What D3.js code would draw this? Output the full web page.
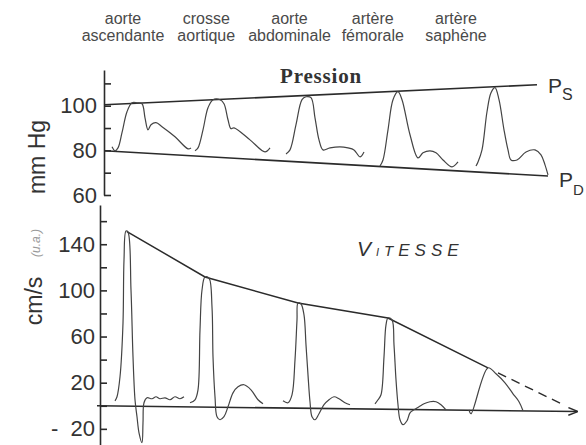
<!DOCTYPE html>
<html><head><meta charset="utf-8">
<script src="https://cdn.jsdelivr.net/npm/d3@7"></script>
<style>html,body{margin:0;background:#fff}svg{display:block}</style>
</head><body>
<svg id="chart" width="586" height="445"></svg>
<script>
// Measurement sites along the arterial tree
const sites = [["aorte", "ascendante"], ["crosse", "aortique"], ["aorte", "abdominale"], ["artère", "fémorale"], ["artère", "saphène"]];

// Axis ticks
const pressureTicks = [60, 70, 80, 90, 100, 110];
const pressureLabels = [60, 80, 100];
const speedTicks = [-20, 0, 20, 40, 60, 80, 100, 120, 140, 160];
const speedLabels = [-20, 20, 60, 100, 140];

// Pressure waves, [time, mmHg]
const pressureAsc = [[12,81.6],[15,79.8],[18,81.1],[22,87.9],[27,97.3],[32,101.3],[37,101.3],[42,100.9],[45,94.6],[48,89.2],[51,91.5],[56,92.4],[62,90.6],[75,86.1],[88,80.7],[91,81.1]];
const pressureArch = [[95,79.8],[98,81.1],[103,89.2],[108,99.1],[113,102.7],[120,102.7],[124,100.9],[128,93.7],[131,89.7],[134,90.1],[150,84.7],[165,79.3],[170,81.1]];
const pressureAbd = [[186,78.4],[190,80.2],[196,91.5],[202,102.7],[206,104],[211,103.6],[215,94.6],[219,84.7],[223,80.2],[230,81.1],[240,81.6],[248,81.1],[254,80.2],[260,77.1],[264,79.3]];
const pressureFem = [[280,73],[283,75.7],[288,89.2],[293,102.7],[298,106.3],[302,102.7],[310,87],[318,76.6],[323,78.9],[330,79.8],[336,78.9],[343,75.7],[352,72.6],[358,74.8]];
const pressureSaph = [[376,73],[378,74.8],[382,80.2],[387,97.3],[391,105.8],[395,108.1],[399,102.7],[404,89.2],[408,80.2],[411,75.7],[417,75.7],[426,79.3],[435,80.2],[441,78],[445,73.5],[448,69]];
// Systolic and diastolic trends, [time, mmHg]
const systolicLine = [[4,100.4],[437,109.4]];
const diastolicLine = [[4,79.8],[448,68.5]];

// Velocity waves, [time, cm/s]
const speedAsc = [[15,4.3],[17,7.8],[20,25.1],[23,71.8],[24,126.3],[26,151.4],[28,150.5],[31,100.3],[33,42.4],[35,5.2],[37,-9.5],[39,-23.4],[42,-32],[43,-14.7],[44,2.6],[47,6.9],[52,6.1],[56,7.8],[60,6.1],[65,6.9],[70,5.2],[75,7.8],[80,6.1],[84,7.8]];
const speedArch = [[90,2.6],[95,5.2],[98,13.8],[100,65.7],[102,100.3],[105,111.6],[109,110.7],[112,85.6],[113,42.4],[115,7.8],[117,-9.5],[120,-12.1],[124,-9.5],[128,-0.9],[133,11.2],[138,16.4],[144,18.2],[151,13.8],[158,5.2],[163,1.7]];
const speedAbd = [[183,4.3],[188,2.6],[192,9.5],[195,39.8],[197,74.4],[198,89.1],[201,88.2],[204,78.7],[206,52.8],[208,26.8],[210,3.5],[212,-9.5],[215,-12.1],[219,-6.9],[224,0.9],[229,5.2],[234,7.8],[239,6.1],[245,2.6],[250,0.9]];
const speedFem = [[275,1.7],[278,5.2],[281,9.5],[284,42.4],[286,70.1],[288,76.1],[292,74.4],[294,52.8],[296,22.5],[298,0.9],[300,-12.1],[303,-16.4],[307,-13],[310,-6.1],[314,-3.5],[319,-0.9],[324,1.7],[330,3.5],[336,3.5],[341,0.9],[346,-3.5]];
const speedSaph = [[369,-3.5],[371,-6.9],[388,32.9],[396,27.7],[405,19.9],[413,10.4],[419,3.5],[423,-4.3]];
// Peak-velocity envelope and its extrapolation, [time, cm/s]
const speedPeaks = [[27,151],[105,111.6],[198,89.1],[288,76.1],[388,32.9]];
const speedTrend = [[398,28.5],[463,1]];
const speedBaseline = [[-3,0],[477,-5]];

const svg = d3.select("#chart");
const ink = "#2b2b2b";
const waveInk = "#444";

const x = d3.scaleLinear().domain([0, 480]).range([100, 580]);
const yP = d3.scaleLinear().domain([60, 116]).range([195, 70]);
const yV = d3.scaleLinear().domain([-34, 174]).range([445, 205]);

const waveP = d3.line().x(d => x(d[0])).y(d => yP(d[1])).curve(d3.curveCatmullRom.alpha(0.5));
const waveV = d3.line().x(d => x(d[0])).y(d => yV(d[1])).curve(d3.curveCatmullRom.alpha(0.5));
const straightP = d3.line().x(d => x(d[0])).y(d => yP(d[1]));
const straightV = d3.line().x(d => x(d[0])).y(d => yV(d[1]));

const sans = "'Liberation Sans', Arial, sans-serif";

// Site labels
const siteX = d3.scalePoint().domain(sites.map(s => s.join(" "))).range([123, 456]);
const siteG = svg.append("g").attr("font-family", sans).attr("font-size", 16).attr("fill", "#4a4a4a").attr("text-anchor", "middle");
sites.forEach(s => {
  const t = siteG.append("text").attr("x", siteX(s.join(" "))).attr("y", 24);
  t.append("tspan").attr("x", siteX(s.join(" "))).text(s[0]);
  t.append("tspan").attr("x", siteX(s.join(" "))).attr("dy", 17).text(s[1]);
});

// ---- Pressure panel ----
const axP = svg.append("g").attr("transform", `translate(${x(4)},0)`)
  .call(d3.axisLeft(yP).tickValues(pressureTicks).tickSize(-7).tickSizeOuter(0).tickPadding(7)
    .tickFormat(d => pressureLabels.includes(d) ? d : ""));
axP.selectAll("path,line").attr("stroke", ink).attr("stroke-width", 1.6);
axP.selectAll("text").attr("font-family", sans).attr("font-size", 22).attr("fill", "#333");

svg.append("text").attr("transform", "translate(45,157) rotate(-90)")
  .attr("text-anchor", "middle").attr("font-family", sans).attr("font-size", 23).attr("fill", "#333").text("mm Hg");

svg.append("text").attr("x", 321).attr("y", 83).attr("text-anchor", "middle")
  .attr("font-family", "'Liberation Serif', 'Times New Roman', serif").attr("font-weight", "bold")
  .attr("font-size", 21).attr("letter-spacing", 0.8).attr("fill", "#333").text("Pression");

[systolicLine, diastolicLine].forEach(l => svg.append("path").attr("d", straightP(l))
  .attr("fill", "none").attr("stroke", ink).attr("stroke-width", 1.6));
[pressureAsc, pressureArch, pressureAbd, pressureFem, pressureSaph].forEach(w => svg.append("path").attr("d", waveP(w))
  .attr("fill", "none").attr("stroke", waveInk).attr("stroke-width", 1.2));

const ps = svg.append("text").attr("x", 548).attr("y", 93).attr("font-family", sans).attr("fill", "#333");
ps.append("tspan").attr("font-size", 21).text("P");
ps.append("tspan").attr("font-size", 16).attr("dy", 7).text("S");
const pd = svg.append("text").attr("x", 559).attr("y", 187).attr("font-family", sans).attr("fill", "#333");
pd.append("tspan").attr("font-size", 21).text("P");
pd.append("tspan").attr("font-size", 15).attr("dy", 8).text("D");

// ---- Velocity panel ----
const axV = svg.append("g").attr("transform", `translate(${x(0)},0)`)
  .call(d3.axisLeft(yV).tickValues(speedTicks).tickSize(-7).tickSizeOuter(0).tickPadding(5)
    .tickFormat(d => speedLabels.includes(d) ? (d < 0 ? "-\u00a0\u00a0" + Math.abs(d) : d) : ""));
axV.selectAll("path,line").attr("stroke", ink).attr("stroke-width", 1.6);
axV.selectAll("text").attr("font-family", sans).attr("font-size", 22).attr("fill", "#333");

svg.append("text").attr("transform", "translate(42,301) rotate(-90)")
  .attr("text-anchor", "middle").attr("font-family", sans).attr("font-size", 23).attr("fill", "#333").text("cm/s");
svg.append("text").attr("transform", "translate(40,243) rotate(-90)")
  .attr("text-anchor", "middle").attr("font-family", sans).attr("font-style", "italic").attr("font-size", 12).attr("fill", "#999").text("(u.a.)");

const vit = svg.append("text").attr("x", 357).attr("y", 256).attr("font-family", sans)
  .attr("font-style", "italic").attr("letter-spacing", 5).attr("fill", "#333");
vit.append("tspan").attr("font-size", 21).text("V");
vit.append("tspan").attr("font-size", 11).text("I");
vit.append("tspan").attr("font-size", 15).text("T");
vit.append("tspan").attr("font-size", 17).text("ESSE");

svg.append("defs").append("marker").attr("id", "tip").attr("viewBox", "0 0 10 10")
  .attr("refX", 9).attr("refY", 5).attr("markerWidth", 6).attr("markerHeight", 6).attr("orient", "auto")
  .append("path").attr("d", "M0,1L10,5L0,9").attr("fill", "none").attr("stroke", ink).attr("stroke-width", 1.5);

svg.append("path").attr("d", straightV(speedBaseline)).attr("fill", "none")
  .attr("stroke", ink).attr("stroke-width", 1.6).attr("marker-end", "url(#tip)");
svg.append("path").attr("d", straightV(speedPeaks)).attr("fill", "none").attr("stroke", ink).attr("stroke-width", 1.5);
svg.append("path").attr("d", straightV(speedTrend)).attr("fill", "none").attr("stroke", ink)
  .attr("stroke-width", 1.4).attr("stroke-dasharray", "9,6");
[speedAsc, speedArch, speedAbd, speedFem, speedSaph].forEach(w => svg.append("path").attr("d", waveV(w))
  .attr("fill", "none").attr("stroke", waveInk).attr("stroke-width", 1.2));
</script>
</body></html>
